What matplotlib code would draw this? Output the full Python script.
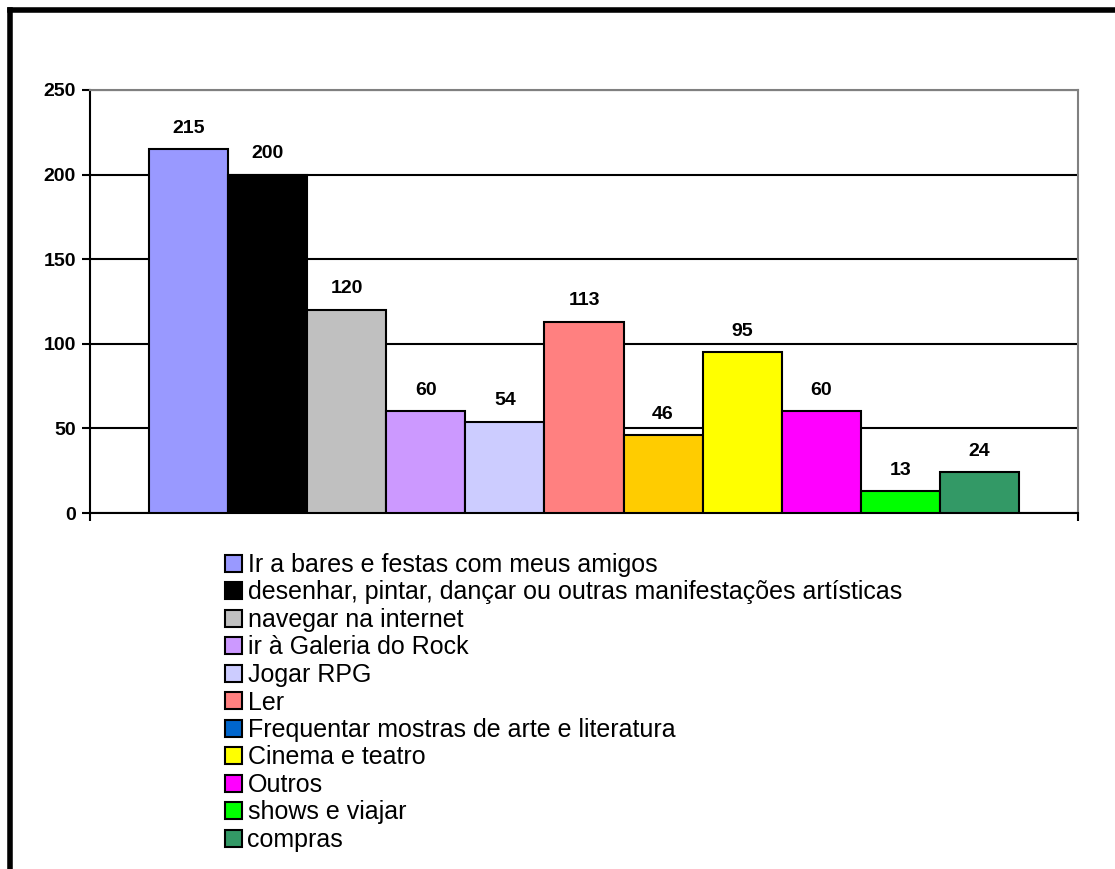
import numpy as np
import matplotlib
matplotlib.use("Agg")
import matplotlib.pyplot as plt
from matplotlib.patches import Patch
from matplotlib.lines import Line2D

plt.rcParams['font.family'] = ['Liberation Sans', 'DejaVu Sans']

categorias = ['Ir a bares e festas com meus amigos',
              'desenhar, pintar, dançar ou outras manifestações artísticas',
              'navegar na internet',
              'ir à Galeria do Rock',
              'Jogar RPG',
              'Ler',
              'Frequentar mostras de arte e literatura',
              'Cinema e teatro',
              'Outros',
              'shows e viajar',
              'compras']
valores = [215, 200, 120, 60, 54, 113, 46, 95, 60, 13, 24]
cores_barras = ['#9999FF', '#000000', '#C0C0C0', '#CC99FF', '#CCCCFF', '#FF8080',
                '#FFCC00', '#FFFF00', '#FF00FF', '#00FF00', '#339966']
cores_legenda = ['#9999FF', '#000000', '#C0C0C0', '#CC99FF', '#CCCCFF', '#FF8080',
                 '#0066CC', '#FFFF00', '#FF00FF', '#00FF00', '#339966']
y_ticks = [0, 50, 100, 150, 200, 250]

W, H = 1115, 869
fig = plt.figure(figsize=(W / 100, H / 100), dpi=100)
fig.patch.set_facecolor('white')

# moldura preta (borda superior e esquerda)
fig.add_artist(Line2D([9.5 / W, 1.0], [1 - 9.5 / H, 1 - 9.5 / H], color='black', lw=4, transform=fig.transFigure))
fig.add_artist(Line2D([9.5 / W, 9.5 / W], [0.0, 1 - 9.5 / H], color='black', lw=4, transform=fig.transFigure))

ax = fig.add_axes([90 / W, (H - 513) / H, (1078 - 90) / W, (513 - 90) / H])

x = np.arange(len(valores))
ax.bar(x, valores, width=1.0, color=cores_barras, edgecolor='black', linewidth=1.5, zorder=3)

for xi, v in zip(x, valores):
    ax.annotate(str(v), (xi, v), xytext=(0, 9), textcoords='offset points',
                ha='center', va='bottom', fontsize=14, fontweight='bold')

gap = 59 / 79
ax.set_xlim(-0.5 - gap, len(valores) - 0.5 + gap)
ax.set_ylim(0, 250)
ax.set_yticks(y_ticks)
ax.set_yticklabels([str(t) for t in y_ticks], fontsize=14, fontweight='bold')
ax.set_xticks(list(ax.get_xlim()))
ax.set_xticklabels([])
ax.tick_params(axis='both', direction='out', length=6, width=1.5, color='black', pad=4)

ax.yaxis.grid(True, color='black', linewidth=1.5, zorder=0)
ax.set_axisbelow(True)
for s in ['left', 'bottom']:
    ax.spines[s].set_color('black')
    ax.spines[s].set_linewidth(1.5)
for s in ['top', 'right']:
    ax.spines[s].set_color('#808080')
    ax.spines[s].set_linewidth(1.5)

handles = [Patch(facecolor=c, edgecolor='black', linewidth=1.5) for c in cores_legenda]
fig.legend(handles, categorias, loc='upper left', bbox_to_anchor=(225 / W, 1 - 553 / H),
           frameon=False, fontsize=18, handlelength=0.68, handleheight=0.68,
           handletextpad=0.22, labelspacing=0.14, borderpad=0, borderaxespad=0)

fig.savefig('out.png', dpi=100)
